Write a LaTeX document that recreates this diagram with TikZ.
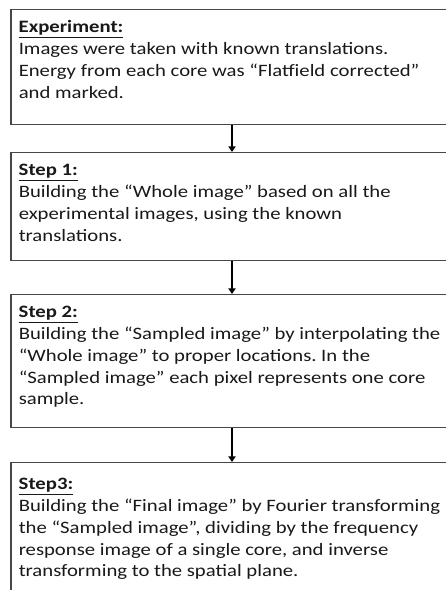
\documentclass[tikz,border=0pt]{standalone}
\usepackage{fontspec}
\setmainfont{Carlito}[FakeStretch=1.19]
\usetikzlibrary{arrows.meta}
\tikzset{
  box/.style={draw=black!72, line width=1.5pt, fill=white, anchor=north west, inner sep=8pt, align=left, text=black!90},
  arr/.style={draw=black, line width=1.3pt, -{Triangle[width=7pt,length=5.5pt]}},
}
\newcommand{\boxtext}[2]{\parbox[t][#1][t]{432pt}{\frenchspacing\fontsize{17.4}{21.7}\selectfont\strut #2}}
\begin{document}
\begin{tikzpicture}[x=1pt,y=1pt]
\useasboundingbox (0,0) rectangle (446,590);
\clip (0,0) rectangle (446,590);
\coordinate (ax) at (232,0);
\node[box] (exp) at (10,581) {\boxtext{99pt}{\textbf{\underline{Experiment:}}\\
Images were taken with known translations.\\
Energy from each core was “Flatfield corrected”\\
and marked.}};
\node[box] (s1) at (10,438) {\boxtext{92pt}{\textbf{\underline{Step 1:}}\\
Building the “Whole image” based on all the\\
experimental images, using the known\\
translations.}};
\node[box] (s2) at (10,296) {\boxtext{117pt}{\textbf{\underline{Step 2:}}\\
Building the “Sampled image” by interpolating the\\
“Whole image” to proper locations. In the\\
“Sampled image” each pixel represents one core\\
sample.}};
\node[box, inner ysep=12pt] (s3) at (10,128) {\boxtext{140pt}{\textbf{\underline{Step3:}}\\
Building the “Final image” by Fourier transforming\\
the “Sampled image”, dividing by the frequency\\
response image of a single core, and inverse\\
transforming to the spatial plane.}};
\draw[arr] (exp.south -| ax) -- (s1.north -| ax);
\draw[arr] (s1.south -| ax) -- (s2.north -| ax);
\draw[arr] (s2.south -| ax) -- (s3.north -| ax);
\end{tikzpicture}
\end{document}
